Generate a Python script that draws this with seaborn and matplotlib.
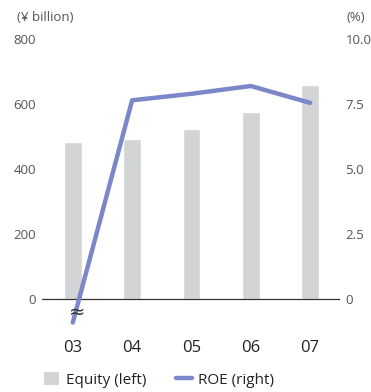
import numpy as np
import pandas as pd
import seaborn as sns
import matplotlib.pyplot as plt
from matplotlib.patches import Patch
from matplotlib.lines import Line2D

# values
years = ['03', '04', '05', '06', '07']
equity = [483, 492, 523, 575, 658]      # ¥ billion, left axis
roe = [-0.9, 7.65, 7.9, 8.2, 7.55]      # %, right axis (03 shown broken)
left_ticks = [0, 200, 400, 600, 800]
right_ticks = [0, 2.5, 5.0, 7.5, 10.0]
right_labels = ['0', '2.5', '5.0', '7.5', '10.0']

bar_color = '#d3d4d6'
line_color = '#7b87c9'
text_color = '#555555'

sns.set_style('white')
plt.rcParams['font.family'] = ['Open Sans', 'DejaVu Sans']

df = pd.DataFrame({'year': years, 'equity': equity, 'roe': roe})

fig = plt.figure(figsize=(3.71, 3.92), dpi=100)
ax = fig.add_axes([0.113, 0.154, 0.803, 0.746])

sns.barplot(data=df, x='year', y='equity', color=bar_color, width=0.3,
            saturation=1, ax=ax, zorder=1)
ax.set_ylim(-100, 800)
ax.set_xlim(-0.52, 4.5)
ax.axhline(0, color='#333333', lw=0.9, zorder=2)
for s in ax.spines.values():
    s.set_visible(False)
ax.set_yticks(left_ticks)
ax.set_yticklabels([str(t) for t in left_ticks])
ax.tick_params(axis='y', length=0, pad=4, labelsize=9.5, labelcolor=text_color)
ax.tick_params(axis='x', length=0, pad=6, labelsize=12, labelcolor='#222222')
ax.set_xlabel('')
ax.set_ylabel('')

ax2 = ax.twinx()
sns.lineplot(x=np.arange(len(years)), y=roe, color=line_color, lw=3.2,
             ax=ax2, zorder=3)
ax2.set_ylim(-1.25, 10.0)
for s in ax2.spines.values():
    s.set_visible(False)
ax2.set_yticks(right_ticks)
ax2.set_yticklabels(right_labels)
ax2.tick_params(axis='y', length=0, pad=4, labelsize=9.5, labelcolor=text_color)
ax2.set_ylabel('')

# break mark on the 03 ROE line
ax2.text(0.07, -0.5, '≈', ha='center', va='center', fontsize=14,
         family='DejaVu Sans', color='#333333', zorder=4)

fig.text(0.046, 0.955, '(¥ billion)', fontsize=9.5, color=text_color,
         ha='left', va='center')
fig.text(0.933, 0.955, '(%)', fontsize=9.5, color=text_color,
         ha='left', va='center')

# legend
handles = [Patch(facecolor=bar_color, edgecolor='none'),
           Line2D([0], [0], color=line_color, lw=3.2)]
fig.legend(handles, ['Equity (left)', 'ROE (right)'], loc='lower left',
           bbox_to_anchor=(0.082, -0.025), ncol=2, frameon=False, fontsize=11,
           handlelength=1.0, handleheight=0.9, handletextpad=0.4,
           columnspacing=2.0, labelcolor='#222222')

fig.savefig('out.png', dpi=100)
